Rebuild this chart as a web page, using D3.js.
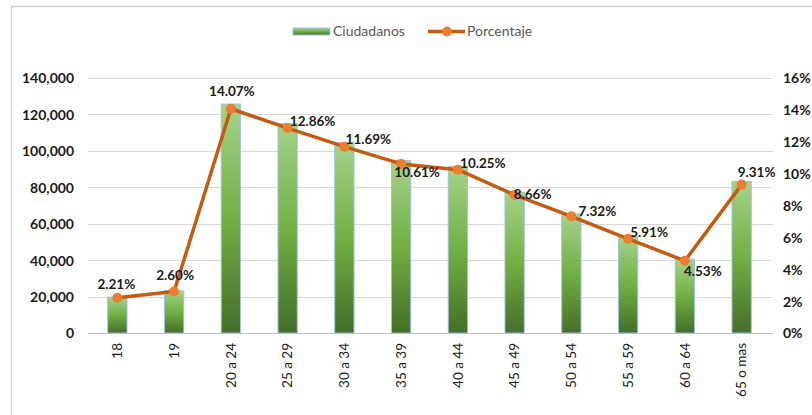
<!DOCTYPE html>
<html>
<head>
<meta charset="utf-8">
<script src="https://cdn.jsdelivr.net/npm/d3@7"></script>
<style>
  body { margin: 0; background: #fff; }
  text { font-family: Lato, "Open Sans", sans-serif; }
</style>
</head>
<body>
<div id="chart"></div>
<script>
// data
var categories = ["18", "19", "20 a 24", "25 a 29", "30 a 34", "35 a 39",
                  "40 a 44", "45 a 49", "50 a 54", "55 a 59", "60 a 64", "65 o mas"];
var ciudadanos = [19740, 23230, 125700, 114890, 104440, 94790,
                  91570, 77370, 65400, 52800, 40470, 83180];
var porcentaje = [2.21, 2.60, 14.07, 12.86, 11.69, 10.61,
                  10.25, 8.66, 7.32, 5.91, 4.53, 9.31];
var leftTicks = [0, 20000, 40000, 60000, 80000, 100000, 120000, 140000];
var rightTicks = [0, 2, 4, 6, 8, 10, 12, 14, 16];

// label nudges (dx, dy from the point), as placed in the original
var labelShift = [[-1, -14], [1, -16], [1, -17], [25, -7], [24, -7], [16, 8],
                  [25, -6], [18, -1], [26, -5], [21, -7], [18, 10], [15, -12]];

var width = 812, height = 415;
var plot = { left: 89, right: 770, top: 78, bottom: 333 };

var svg = d3.select("#chart")
    .append("svg")
    .attr("width", width)
    .attr("height", height);

// frame
svg.append("path")
    .attr("d", "M11.5," + height + "V6.5H" + width)
    .attr("fill", "none")
    .attr("stroke", "#d0d0d0")
    .attr("stroke-width", 1.5);

var defs = svg.append("defs");
var grad = defs.append("linearGradient")
    .attr("id", "barGrad")
    .attr("x1", 0).attr("y1", 0).attr("x2", 0).attr("y2", 1);
grad.append("stop").attr("offset", "0%").attr("stop-color", "#a6d28a");
grad.append("stop").attr("offset", "50%").attr("stop-color", "#71b043");
grad.append("stop").attr("offset", "100%").attr("stop-color", "#466e29");

var x = d3.scaleBand()
    .domain(categories)
    .range([plot.left, plot.right])
    .padding(0);

var yL = d3.scaleLinear()
    .domain([0, 140000])
    .range([plot.bottom, plot.top]);

var yR = d3.scaleLinear()
    .domain([0, 16])
    .range([plot.bottom, plot.top]);

// gridlines
svg.append("g")
    .selectAll("line")
    .data(leftTicks)
    .enter()
    .append("line")
    .attr("x1", plot.left - 1)
    .attr("x2", plot.right + 3)
    .attr("y1", function(d) { return Math.round(yL(d)) + 0.5; })
    .attr("y2", function(d) { return Math.round(yL(d)) + 0.5; })
    .attr("stroke", function(d) { return d === 0 ? "#bfbfbf" : "#d9d9d9"; })
    .attr("stroke-width", 1.2);

// left axis
var axisL = svg.append("g")
    .attr("transform", "translate(" + (plot.left - 15) + ",0)")
    .call(d3.axisLeft(yL).tickValues(leftTicks).tickSize(0).tickFormat(d3.format(",")));
axisL.select(".domain").remove();
axisL.selectAll("text")
    .attr("x", 0)
    .attr("dy", "0.35em")
    .style("font-size", "14px")
    .style("font-weight", "bold")
    .style("fill", "#1a1a1a");

// right axis
var axisR = svg.append("g")
    .attr("transform", "translate(" + (plot.right + 13) + ",0)")
    .call(d3.axisRight(yR).tickValues(rightTicks).tickSize(0).tickFormat(function(d) { return d + "%"; }));
axisR.select(".domain").remove();
axisR.selectAll("text")
    .attr("x", 0)
    .attr("dy", "0.35em")
    .style("font-size", "14px")
    .style("font-weight", "bold")
    .style("fill", "#1a1a1a");

// x axis labels
var axisX = svg.append("g")
    .attr("transform", "translate(0," + (plot.bottom + 10) + ")")
    .call(d3.axisBottom(x).tickSize(0));
axisX.select(".domain").remove();
axisX.selectAll("text")
    .attr("transform", "rotate(-90)")
    .attr("x", 0)
    .attr("y", 0)
    .attr("dy", "0.35em")
    .style("text-anchor", "end")
    .style("font-size", "13.5px")
    .style("fill", "#1a1a1a");

// bars
var barW = x.bandwidth() * 0.34;
svg.append("g")
    .selectAll("rect")
    .data(ciudadanos)
    .enter()
    .append("rect")
    .attr("x", function(d, i) { return x(categories[i]) + x.bandwidth() / 2 - barW / 2; })
    .attr("y", function(d) { return yL(d); })
    .attr("width", barW)
    .attr("height", function(d) { return plot.bottom - yL(d); })
    .attr("fill", "url(#barGrad)")
    .attr("stroke", "#9dc3e6")
    .attr("stroke-width", 1);

// line
var line = d3.line()
    .x(function(d, i) { return x(categories[i]) + x.bandwidth() / 2; })
    .y(function(d) { return yR(d); });

svg.append("path")
    .datum(porcentaje)
    .attr("d", line)
    .attr("fill", "none")
    .attr("stroke", "#c55a11")
    .attr("stroke-width", 3.5)
    .attr("stroke-linejoin", "round");

svg.append("g")
    .selectAll("circle")
    .data(porcentaje)
    .enter()
    .append("circle")
    .attr("cx", function(d, i) { return x(categories[i]) + x.bandwidth() / 2; })
    .attr("cy", function(d) { return yR(d); })
    .attr("r", 5)
    .attr("fill", "#ed7d31");

// data labels
svg.append("g")
    .selectAll("text")
    .data(porcentaje)
    .enter()
    .append("text")
    .attr("x", function(d, i) { return x(categories[i]) + x.bandwidth() / 2 + labelShift[i][0]; })
    .attr("y", function(d, i) { return yR(d) + labelShift[i][1]; })
    .attr("dy", "0.35em")
    .attr("text-anchor", "middle")
    .style("font-size", "13.5px")
    .style("font-weight", "bold")
    .style("fill", "#1a1a1a")
    .text(function(d) { return d.toFixed(2) + "%"; });

// legend
var legend = svg.append("g");
legend.append("rect")
    .attr("x", 293).attr("y", 28)
    .attr("width", 37).attr("height", 7)
    .attr("fill", "url(#barGrad)")
    .attr("stroke", "#9dc3e6");
legend.append("text")
    .attr("x", 333).attr("y", 31.5)
    .attr("dy", "0.35em")
    .style("font-size", "14px")
    .style("fill", "#595959")
    .text("Ciudadanos");
legend.append("line")
    .attr("x1", 428).attr("x2", 465)
    .attr("y1", 31.5).attr("y2", 31.5)
    .attr("stroke", "#c55a11")
    .attr("stroke-width", 3.5);
legend.append("circle")
    .attr("cx", 447).attr("cy", 31.5)
    .attr("r", 5)
    .attr("fill", "#ed7d31");
legend.append("text")
    .attr("x", 467).attr("y", 31.5)
    .attr("dy", "0.35em")
    .style("font-size", "14px")
    .style("fill", "#595959")
    .text("Porcentaje");
</script>
</body>
</html>
